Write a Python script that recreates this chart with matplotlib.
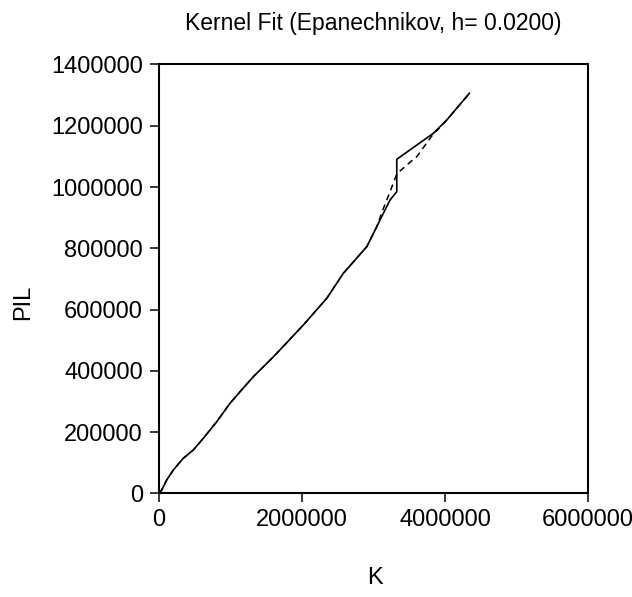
import matplotlib.pyplot as plt

plt.rcParams['font.family'] = ['Liberation Sans', 'DejaVu Sans']

# Kernel fit, solid line (K, PIL)
k_fit = [0, 37762, 107692, 200000, 339860, 479720, 619580, 807000, 993000,
         1132900, 1318900, 1552600, 1646200, 2018200, 2345500, 2577600,
         2904900, 3044700, 3137000, 3230800, 3324500, 3324500, 3836400,
         4023800, 4339900]
pil_fit = [0, 11422, 44056, 76690, 114870, 141960, 180140, 234310, 294350,
           332200, 381170, 435000, 457500, 549900, 637000, 718600,
           805400, 870700, 914400, 958000, 984900, 1090600, 1175500,
           1218900, 1306000]

# second fit, dashed line
k_dash = [0, 37762, 107692, 200000, 339860, 479720, 619580, 807000, 993000,
          1132900, 1318900, 1552600, 1646200, 2018200, 2345500, 2577600,
          2904900, 3044700, 3128700, 3230800, 3324500, 3464400, 3604300,
          3814100, 4023800, 4339900]
pil_dash = [0, 11422, 44056, 76690, 114870, 141960, 180140, 234310, 294350,
            332200, 381170, 435000, 457500, 549900, 637000, 718600,
            805400, 870700, 925200, 985000, 1042700, 1072000, 1099100,
            1166700, 1218900, 1306000]

x_ticks = [0, 2000000, 4000000, 6000000]
y_ticks = [0, 200000, 400000, 600000, 800000, 1000000, 1200000, 1400000]

fig = plt.figure(figsize=(6.32, 5.97), dpi=100)
ax = fig.add_axes([0.2516, 0.1734, 0.679, 0.7186])

ax.plot(k_dash, pil_dash, color='black', lw=1.1, ls=(0, (4, 3)))
ax.plot(k_fit, pil_fit, color='black', lw=1.2)

ax.set_xlim(0, 6000000)
ax.set_ylim(0, 1400000)
ax.set_xticks(x_ticks)
ax.set_xticklabels([str(v) for v in x_ticks])
ax.set_yticks(y_ticks)
ax.set_yticklabels([str(v) for v in y_ticks])

for s in ax.spines.values():
    s.set_linewidth(1.5)
ax.tick_params(direction='out', length=6.5, width=1.1, labelsize=17, pad=5)

ax.set_title('Kernel Fit (Epanechnikov, h= 0.0200)', fontsize=16.5, pad=25)
ax.set_xlabel('K', fontsize=17)
ax.set_ylabel('PIL', fontsize=17)
ax.xaxis.set_label_coords(0.503, -0.172)
ax.yaxis.set_label_coords(-0.29, 0.446)

fig.savefig('out.png', dpi=100)
